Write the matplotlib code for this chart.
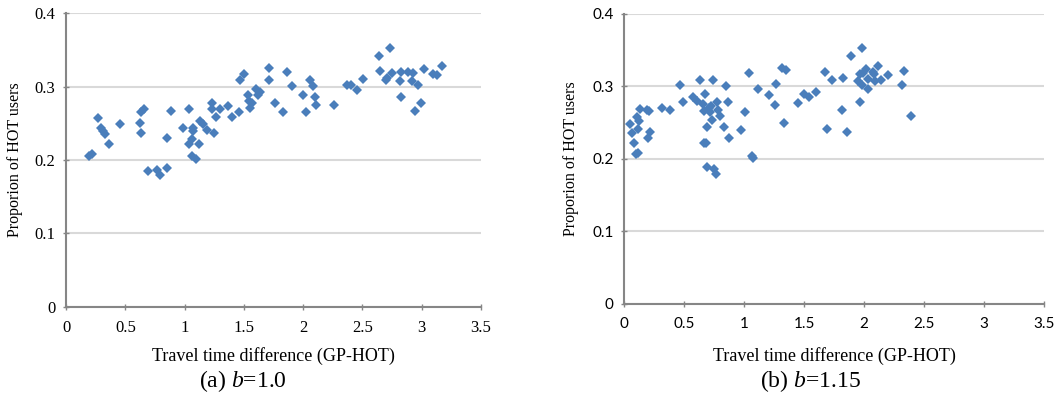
"""
plot.py

HOT 用户比例 vs 出行时间差 散点图 (b=1.0 / b=1.15)
"""

import matplotlib
matplotlib.use("Agg")
import matplotlib.pyplot as plt


# ==========================
# 1. 数据
# ==========================

# (a) b=1.0
X_A = [0.197, 0.222, 0.267, 0.295, 0.309, 0.329, 0.365, 0.455, 0.624, 0.635,
       0.658, 0.632, 0.691, 0.764, 0.795, 0.854, 0.854, 0.888, 0.989, 1.034,
       1.040, 1.062, 1.071, 1.071, 1.060, 1.093, 1.124, 1.133, 1.153, 1.192,
       1.228, 1.234, 1.251, 1.268, 1.298, 1.363, 1.400, 1.456, 1.467, 1.498,
       1.535, 1.543, 1.551, 1.571, 1.599, 1.622, 1.636, 1.712, 1.712, 1.762,
       1.827, 1.861, 1.906, 1.996, 2.021, 2.055, 2.085, 2.099, 2.105, 2.260,
       2.372, 2.406, 2.451, 2.501, 2.636, 2.648, 2.732, 2.698, 2.709, 2.746,
       2.813, 2.822, 2.828, 2.886, 2.915, 2.929, 2.943, 2.965, 2.996, 3.016,
       3.092, 3.128, 3.173]
Y_A = [0.206, 0.2085, 0.257, 0.243, 0.240, 0.236, 0.222, 0.249, 0.251, 0.266,
       0.269, 0.237, 0.185, 0.186, 0.179, 0.189, 0.2295, 0.267, 0.244, 0.270,
       0.222, 0.229, 0.243, 0.239, 0.205, 0.201, 0.222, 0.253, 0.249, 0.241,
       0.278, 0.269, 0.237, 0.259, 0.269, 0.273, 0.259, 0.265, 0.309, 0.317,
       0.289, 0.280, 0.271, 0.278, 0.297, 0.289, 0.293, 0.325, 0.309, 0.278,
       0.2655, 0.3206, 0.301, 0.288, 0.266, 0.309, 0.301, 0.286, 0.275, 0.275,
       0.302, 0.302, 0.2955, 0.3106, 0.342, 0.322, 0.353, 0.309, 0.312, 0.318,
       0.308, 0.320, 0.286, 0.3206, 0.308, 0.318, 0.267, 0.302, 0.278, 0.324,
       0.317, 0.3156, 0.328]

# (b) b=1.15
X_B = [0.050, 0.067, 0.086, 0.100, 0.117, 0.111, 0.122, 0.114, 0.131, 0.192,
       0.211, 0.197, 0.214, 0.314, 0.383, 0.464, 0.492, 0.575, 0.606, 0.636,
       0.661, 0.672, 0.664, 0.694, 0.667, 0.683, 0.694, 0.711, 0.717, 0.722,
       0.733, 0.744, 0.753, 0.764, 0.775, 0.786, 0.800, 0.836, 0.850, 0.864,
       0.875, 0.972, 1.011, 1.044, 1.064, 1.075, 1.117, 1.206, 1.264, 1.261,
       1.319, 1.350, 1.331, 1.450, 1.500, 1.539, 1.597, 1.672, 1.694, 1.733,
       1.814, 1.828, 1.856, 1.889, 1.950, 1.964, 1.969, 1.983, 1.986, 1.994,
       2.017, 2.031, 2.036, 2.078, 2.081, 2.092, 2.114, 2.144, 2.203, 2.314,
       2.333, 2.394]
Y_B = [0.2486, 0.236, 0.2216, 0.2064, 0.2087, 0.2573, 0.2518, 0.242, 0.2688, 0.267,
       0.266, 0.229, 0.237, 0.2697, 0.268, 0.3014, 0.278, 0.2858, 0.280, 0.309,
       0.276, 0.289, 0.2656, 0.244, 0.222, 0.222, 0.1894, 0.270, 0.265, 0.2725,
       0.2537, 0.309, 0.186, 0.1794, 0.279, 0.267, 0.2587, 0.244, 0.301, 0.278,
       0.229, 0.240, 0.265, 0.318, 0.2037, 0.201, 0.297, 0.288, 0.303, 0.275,
       0.325, 0.3225, 0.249, 0.2775, 0.289, 0.286, 0.293, 0.320, 0.241, 0.309,
       0.2674, 0.312, 0.237, 0.342, 0.308, 0.278, 0.3174, 0.302, 0.3528, 0.319,
       0.324, 0.296, 0.3106, 0.320, 0.317, 0.308, 0.3284, 0.309, 0.316, 0.302,
       0.321, 0.2596]

X_TICKS = [0, 0.5, 1, 1.5, 2, 2.5, 3, 3.5]
X_TICK_LABELS = ["0", "0.5", "1", "1.5", "2", "2.5", "3", "3.5"]
Y_TICKS = [0, 0.1, 0.2, 0.3, 0.4]
Y_TICK_LABELS = ["0", "0.1", "0.2", "0.3", "0.4"]

X_LABEL = "Travel time difference (GP-HOT)"
Y_LABEL = "Proporion of HOT users"
CAPTIONS = ["(a) $b$=1.0", "(b) $b$=1.15"]


# ==========================
# 2. 样式
# ==========================

SERIF = "Liberation Serif"
SANS = "Lato"
MARKER_COLOR = "#4a7ebb"
AXIS_COLOR = "#868686"
GRID_COLOR = "#d9d9d9"

plt.rcParams["font.family"] = SERIF
plt.rcParams["mathtext.fontset"] = "custom"
plt.rcParams["mathtext.rm"] = SERIF
plt.rcParams["mathtext.it"] = SERIF + ":italic"


def draw_panel(ax, x, y, tick_font, tick_size, ylab_x, xlab_y):
    """画一个散点子图（Excel 风格）"""
    ax.plot(x, y, linestyle="none", marker="D", markersize=5.5,
            color=MARKER_COLOR, markeredgewidth=0, zorder=3)

    ax.set_xlim(0, 3.5)
    ax.set_ylim(0, 0.4)
    ax.set_xticks(X_TICKS)
    ax.set_xticklabels(X_TICK_LABELS, family=tick_font, fontsize=tick_size)
    ax.set_yticks(Y_TICKS)
    ax.set_yticklabels(Y_TICK_LABELS, family=tick_font, fontsize=tick_size)

    ax.grid(True, axis="y", color=GRID_COLOR, linewidth=1.5, zorder=0)
    ax.set_axisbelow(True)

    for side in ["top", "right"]:
        ax.spines[side].set_visible(False)
    for side in ["left", "bottom"]:
        ax.spines[side].set_color(AXIS_COLOR)
        ax.spines[side].set_linewidth(1.5)

    ax.tick_params(direction="inout", length=5, width=1, color=AXIS_COLOR,
                   labelcolor="black")
    ax.tick_params(axis="x", pad=7)
    ax.tick_params(axis="y", pad=5)

    ax.set_xlabel(X_LABEL, fontsize=13, va="center")
    ax.set_ylabel(Y_LABEL, fontsize=11.5, va="center")
    ax.xaxis.set_label_coords(0.5, xlab_y)
    ax.yaxis.set_label_coords(ylab_x, 0.5)


# ==========================
# 3. 作图
# ==========================

fig = plt.figure(figsize=(10.6, 3.93), dpi=100)

ax_a = fig.add_axes([0.0623, 0.2196, 0.3915, 0.7465])
ax_b = fig.add_axes([0.5887, 0.2265, 0.3962, 0.7380])

draw_panel(ax_a, X_A, Y_A, SERIF, 12, -0.123, -0.168)
draw_panel(ax_b, X_B, Y_B, SANS, 11, -0.126, -0.179)

fig.text(243 / 1060, 1 - 381 / 393, CAPTIONS[0], ha="center", va="center", fontsize=17)
fig.text(810 / 1060, 1 - 381 / 393, CAPTIONS[1], ha="center", va="center", fontsize=17)

fig.savefig("out.png", dpi=100)
plt.close(fig)
